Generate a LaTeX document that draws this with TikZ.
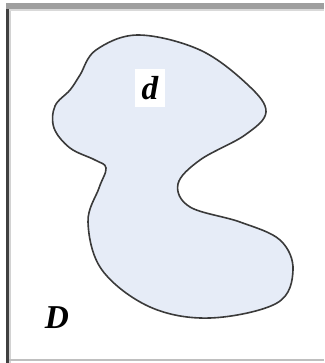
\documentclass[tikz,border=0pt]{standalone}
\usepackage{fontspec}
\setmainfont{Liberation Serif}
\definecolor{regionfill}{HTML}{E6ECF7}
\definecolor{edgegray}{HTML}{3A3A3A}

\begin{document}
\begin{tikzpicture}[x=0.75pt, y=-0.75pt,
  region/.style={fill=regionfill, draw=edgegray, line width=1.2pt},
  lbl/.style={font=\fontsize{25}{27}\selectfont\bfseries\itshape, inner sep=1pt}]

\useasboundingbox (0,0) rectangle (324,363);

% frame
\fill[gray!75] (6,3) rectangle (324,9);
\fill[gray!30] (6,9) rectangle (324,11);
\fill[black!75] (6,9) rectangle (9,363);
\fill[gray!35] (9,11) rectangle (11,363);
\draw[gray!50, line width=0.8pt] (9,360) -- (324,360);

% region d
\draw[region] plot[smooth cycle, tension=0.6] coordinates {
  (138,35) (200,50) (248,85) (266,112) (245,135) (200,160)
  (178,184) (190,207) (240,222) (280,240) (293,270) (277,303)
  (210,318) (150,307) (102,270) (88,222) (99,188) (106,168)
  (95,160) (70,148) (54,128) (55,106) (70,90) (80,75) (96,50)};

\node[lbl, fill=white, minimum width=22pt, minimum height=29pt] (d) at (150,88) {d};
\node[lbl] (D) at (57,318) {D};

\end{tikzpicture}
\end{document}
